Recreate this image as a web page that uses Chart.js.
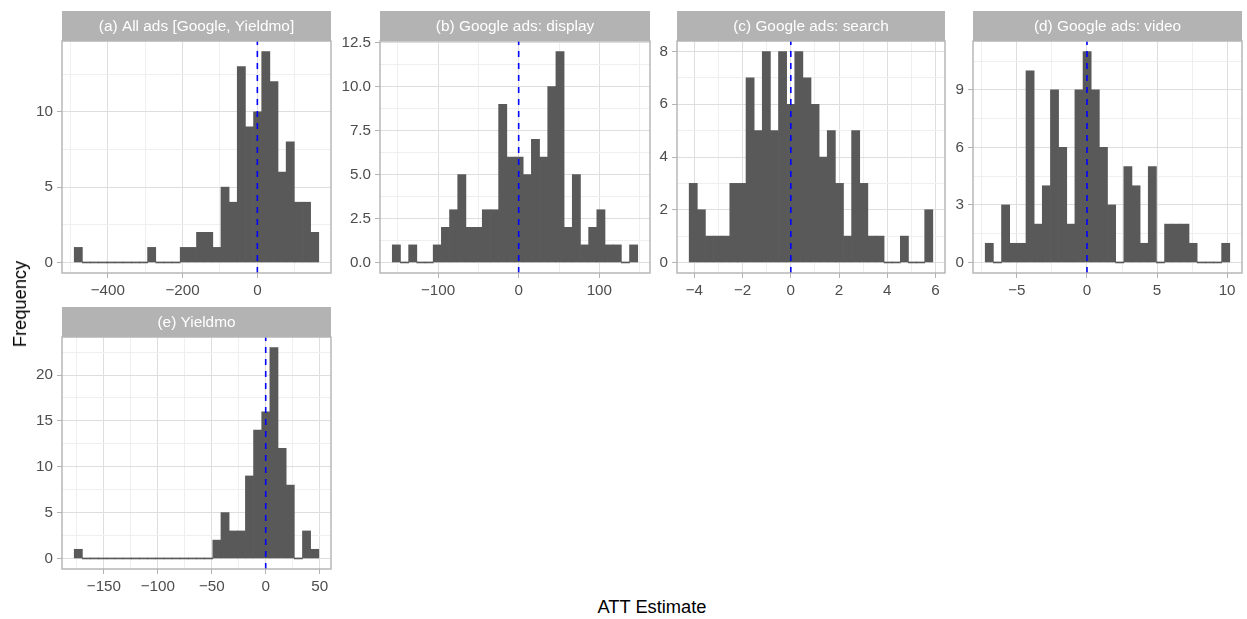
<!DOCTYPE html>
<html>
<head>
<meta charset="utf-8">
<title>ATT Estimate histograms</title>
<script src="https://cdn.jsdelivr.net/npm/chart.js@4.4.1/dist/chart.umd.min.js"></script>
<style>
    html, body { margin: 0; padding: 0; background: #ffffff; }
    body {
        position: relative;
        width: 1247px;
        height: 619px;
        overflow: hidden;
        font-family: "Liberation Sans", Arial, sans-serif;
    }
    canvas { position: absolute; }
    #chartA { left: 12px;  top: 11px; }
    #chartB { left: 330px; top: 11px; }
    #chartC { left: 627px; top: 11px; }
    #chartD { left: 923px; top: 11px; }
    #chartE { left: 12px;  top: 307px; }
    .axis-title {
        position: absolute;
        color: #000000;
        font-size: 18.3px;
        white-space: nowrap;
    }
    #yTitle { left: 20px; top: 304px; transform: translate(-50%, -50%) rotate(-90deg); }
    #xTitle { left: 652px; top: 607px; transform: translate(-50%, -50%); }
</style>
</head>
<body>
<canvas id="chartA" width="323" height="292"></canvas>
<canvas id="chartB" width="324" height="292"></canvas>
<canvas id="chartC" width="322" height="292"></canvas>
<canvas id="chartD" width="323" height="292"></canvas>
<canvas id="chartE" width="323" height="292"></canvas>
<div class="axis-title" id="yTitle">Frequency</div>
<div class="axis-title" id="xTitle">ATT Estimate</div>

<script>
// Counts: 30 bins per panel, bins spanning binRange
const panelTitles = [
    '(a) All ads [Google, Yieldmo]',
    '(b) Google ads: display',
    '(c) Google ads: search',
    '(d) Google ads: video',
    '(e) Yieldmo'
];

const binRangeA = [-489.6, 164.2];
const countsA = [1, 0, 0, 0, 0, 0, 0, 0, 0, 1, 0, 0, 0, 1, 1, 2, 2, 1, 5, 4, 13, 9, 10, 14, 12, 6, 8, 4, 4, 2];
const xMajorA = [-400, -200, 0];
const xMinorA = [-500, -300, -100, 100];
const yMajorA = [0, 5, 10];
const yMinorA = [2.5, 7.5, 12.5];

const binRangeB = [-156.7, 147.6];
const countsB = [1, 0, 1, 0, 0, 1, 2, 3, 5, 2, 2, 3, 3, 9, 6, 6, 5, 7, 6, 10, 12, 2, 5, 1, 2, 3, 1, 1, 0, 1];
const xMajorB = [-100, 0, 100];
const xMinorB = [-150, -50, 50, 150];
const yMajorB = [0, 2.5, 5, 7.5, 10, 12.5];
const yMinorB = [1.25, 3.75, 6.25, 8.75, 11.25];

const binRangeC = [-4.217, 5.893];
const countsC = [3, 2, 1, 1, 1, 3, 3, 7, 5, 8, 5, 8, 6, 8, 7, 6, 4, 5, 3, 1, 5, 3, 1, 1, 0, 0, 1, 0, 0, 2];
const xMajorC = [-4, -2, 0, 2, 4, 6];
const xMinorC = [-3, -1, 1, 3, 5];
const yMajorC = [0, 2, 4, 6, 8];
const yMinorC = [1, 3, 5, 7];

const binRangeD = [-7.26, 10.19];
const countsD = [1, 0, 3, 1, 1, 10, 2, 4, 9, 6, 2, 9, 11, 9, 6, 3, 0, 5, 4, 1, 5, 0, 2, 2, 2, 1, 0, 0, 0, 1];
const xMajorD = [-5, 0, 5, 10];
const xMinorD = [-7.5, -2.5, 2.5, 7.5];
const yMajorD = [0, 3, 6, 9];
const yMinorD = [1.5, 4.5, 7.5, 10.5];

const binRangeE = [-177.5, 49.2];
const countsE = [1, 0, 0, 0, 0, 0, 0, 0, 0, 0, 0, 0, 0, 0, 0, 0, 0, 2, 5, 3, 3, 9, 14, 16, 23, 12, 8, 0, 3, 1];
const xMajorE = [-150, -100, -50, 0, 50];
const xMinorE = [-175, -125, -75, -25, 25];
const yMajorE = [0, 5, 10, 15, 20];
const yMinorE = [2.5, 7.5, 12.5, 17.5, 22.5];

const FONT = '"Liberation Sans", Arial, sans-serif';
const STRIP_HEIGHT = 30;

/**
 * Draws the grey facet strip above the panel and the panel border (ggplot theme_light look)
 */
const facetFrame = {
    id: 'facetFrame',
    beforeDraw(chart, args, opts) {
        const { ctx, chartArea: a } = chart;
        ctx.save();
        ctx.fillStyle = '#B3B3B3';
        ctx.fillRect(a.left, a.top - STRIP_HEIGHT, a.right - a.left, STRIP_HEIGHT);
        ctx.fillStyle = '#FFFFFF';
        ctx.font = '15.4px ' + FONT;
        ctx.textAlign = 'center';
        ctx.textBaseline = 'middle';
        ctx.fillText(opts.title, (a.left + a.right) / 2, a.top - STRIP_HEIGHT / 2 + 1);
        ctx.restore();
    },
    afterDatasetsDraw(chart) {
        const { ctx, chartArea: a } = chart;
        ctx.save();
        ctx.strokeStyle = '#B3B3B3';
        ctx.lineWidth = 1.4;
        ctx.strokeRect(a.left, a.top, a.right - a.left, a.bottom - a.top);
        ctx.restore();
    }
};

function formatTick(value, digits) {
    const text = Math.abs(value).toFixed(digits);
    return value < 0 ? '\u2212' + text : text;
}

/**
 * Axis options with major + minor grid lines; only majors get labels and tick marks
 */
function axisOptions(major, minor, min, max, digits, fixedSize, isX) {
    const all = major.concat(minor).sort((p, q) => p - q);
    const isMajor = ctx => ctx.tick && major.includes(ctx.tick.value);
    return {
        type: 'linear',
        min: min,
        max: max,
        offset: false,
        afterBuildTicks: scale => { scale.ticks = all.map(v => ({ value: v })); },
        afterFit: scale => {
            if (isX) scale.height = fixedSize;
            else scale.width = fixedSize;
        },
        border: { display: false },
        grid: {
            offset: false,
            color: ctx => isMajor(ctx) ? '#DEDEDE' : '#EFEFEF',
            lineWidth: 1,
            tickColor: ctx => isMajor(ctx) ? '#B3B3B3' : 'rgba(0,0,0,0)',
            tickLength: 5,
            tickWidth: 1
        },
        ticks: {
            autoSkip: false,
            maxRotation: 0,
            padding: 4,
            color: '#4D4D4D',
            font: { family: FONT, size: 15.2 },
            callback: value => major.includes(value) ? formatTick(value, digits) : ''
        }
    };
}

function buildHistogram(canvasId, title, binRange, counts, xMajor, xMinor, yMajor, yMinor, yDigits) {
    const binWidth = (binRange[1] - binRange[0]) / counts.length;
    const bars = counts.map((c, i) => ({ x: binRange[0] + binWidth * (i + 0.5), y: c }));

    // ggplot default 5% expansion on both axes
    const xPad = 0.05 * (binRange[1] - binRange[0]);
    const yTop = Math.max(...counts);
    const yMin = -0.05 * yTop;
    const yMax = 1.05 * yTop;

    new Chart(document.getElementById(canvasId), {
        type: 'bar',
        data: {
            datasets: [
                {
                    type: 'line',
                    data: [{ x: 0, y: yMin }, { x: 0, y: yMax }],
                    borderColor: '#0000FF',
                    borderWidth: 1.6,
                    borderDash: [6, 6],
                    pointRadius: 0,
                    order: 0
                },
                {
                    type: 'bar',
                    data: bars,
                    backgroundColor: '#595959',
                    borderWidth: 0,
                    barPercentage: 1,
                    categoryPercentage: 1,
                    minBarLength: 1,
                    order: 1
                }
            ]
        },
        options: {
            responsive: false,
            animation: false,
            layout: { padding: { top: STRIP_HEIGHT, right: 4, left: 0, bottom: 0 } },
            plugins: {
                legend: { display: false },
                tooltip: { enabled: false },
                facetFrame: { title: title }
            },
            scales: {
                x: axisOptions(xMajor, xMinor, binRange[0] - xPad, binRange[1] + xPad, 0, 30, true),
                y: axisOptions(yMajor, yMinor, yMin, yMax, yDigits, 50, false)
            }
        },
        plugins: [facetFrame]
    });
}

document.addEventListener('DOMContentLoaded', () => {
    buildHistogram('chartA', panelTitles[0], binRangeA, countsA, xMajorA, xMinorA, yMajorA, yMinorA, 0);
    buildHistogram('chartB', panelTitles[1], binRangeB, countsB, xMajorB, xMinorB, yMajorB, yMinorB, 1);
    buildHistogram('chartC', panelTitles[2], binRangeC, countsC, xMajorC, xMinorC, yMajorC, yMinorC, 0);
    buildHistogram('chartD', panelTitles[3], binRangeD, countsD, xMajorD, xMinorD, yMajorD, yMinorD, 0);
    buildHistogram('chartE', panelTitles[4], binRangeE, countsE, xMajorE, xMinorE, yMajorE, yMinorE, 0);
});
</script>
</body>
</html>
